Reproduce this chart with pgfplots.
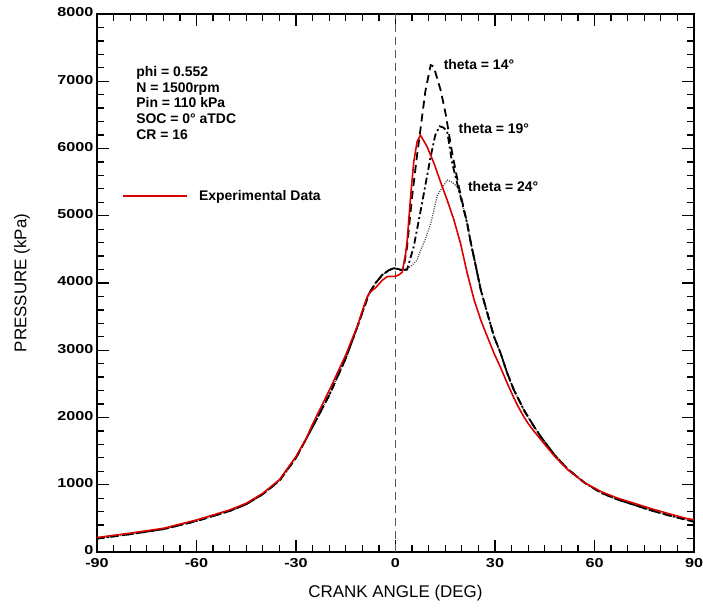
\documentclass[border=0pt]{standalone}
\usepackage{fontspec}
\setmainfont{Liberation Sans}
\newfontfamily\tickfont[FakeStretch=1.25]{Liberation Sans}
\usepackage{pgfplots}
\pgfplotsset{compat=1.18}

% experimental pressure trace
\pgfplotstableread{
ca p
-90 215
-80 280
-70 352
-60 476
-50 625
-45 724
-40 873
-35 1075
-30 1420
-27 1680
-25 1900
-20 2400
-15 2930
-11.5 3360
-9.5 3660
-8.5 3800
-7.5 3870
-6 3930
-4 4040
-2.5 4095
0 4100
1 4120
2 4160
3 4420
3.5 4620
4.5 5250
5.5 5800
6.5 6100
7.5 6200
9.5 6030
11.6 5780
13.6 5500
15.6 5230
17.6 4940
19.6 4590
21.6 4150
23.7 3750
25.7 3450
27.7 3200
29.7 2955
31.7 2740
33.7 2508
35.7 2290
37 2160
38.7 2010
40 1910
42 1780
44 1660
48 1420
52 1220
57 1030
62 897
67 800
72 724
77 645
82 575
87.6 500
90 480
}\expdata

% model, theta = 14
\pgfplotstableread{
ca p
-90 200
-80 265
-70 340
-60 460
-50 610
-45 710
-40 860
-35 1060
-30 1400
-25 1860
-20 2330
-15 2880
-12 3280
-10 3560
-8 3840
-6 4000
-4 4120
-2 4190
-0.5 4220
1 4205
2 4190
2.5 4242
3.5 4540
5 5283
6.5 5900
7.5 6275
9 6850
10.6 7240
11.5 7220
13.6 6870
15.1 6520
17.1 5929
19.1 5430
21.6 4890
22.7 4600
24 4300
25.7 3900
27.7 3549
29.7 3202
31.7 2955
33.7 2657
35.7 2409
38.7 2112
41.8 1863
43.8 1715
48 1440
52 1230
57 1030
62 880
67 780
72 700
77 620
82 550
90 450
}\thetaA

% model, theta = 19
\pgfplotstableread{
ca p
-90 200
-80 265
-70 340
-60 460
-50 610
-45 710
-40 860
-35 1060
-30 1400
-25 1860
-20 2330
-15 2880
-12 3280
-10 3560
-8 3840
-6 4000
-4 4120
-2 4190
-0.5 4220
1 4205
2 4185
3.5 4200
5.5 4540
8 5185
10.6 5880
12 6200
13.3 6330
14.5 6310
15.6 6250
17.1 5780
19.1 5383
21.6 4890
22.7 4600
24 4300
25.7 3900
27.7 3549
29.7 3202
31.7 2955
33.7 2657
35.7 2409
38.7 2112
41.8 1863
43.8 1715
48 1440
52 1230
57 1030
62 880
67 780
72 700
77 620
82 550
90 450
}\thetaB

% model, theta = 24
\pgfplotstableread{
ca p
-90 200
-80 265
-70 340
-60 460
-50 610
-45 710
-40 860
-35 1060
-30 1400
-25 1860
-20 2330
-15 2880
-12 3280
-10 3560
-8 3840
-6 4000
-4 4120
-2 4190
-0.5 4220
1 4205
2.5 4193
4.5 4242
6.5 4340
7.5 4480
9 4650
10.6 4880
12.6 5300
13.6 5383
15.6 5530
17 5500
18.6 5430
19.6 5300
21.6 4890
22.7 4600
24 4300
25.7 3900
27.7 3549
29.7 3202
31.7 2955
33.7 2657
35.7 2409
38.7 2112
41.8 1863
43.8 1715
48 1440
52 1230
57 1030
62 880
67 780
72 700
77 620
82 550
90 450
}\thetaC

\begin{document}
\begin{tikzpicture}
\begin{axis}[
    scale only axis,
    width=597bp, height=538bp,
    xmin=-90, xmax=90,
    ymin=0, ymax=8000,
    xtick={-90,-60,...,90},
    ytick={0,1000,...,8000},
    minor x tick num=5,
    minor y tick num=4,
    tick align=inside,
    tick pos=both,
    major tick length=12bp,
    minor tick length=7bp,
    every tick/.style={black, line width=1.3bp},
    axis line style={line width=1.5bp},
    scaled y ticks=false,
    /pgf/number format/assume math mode=true,
    /pgf/number format/1000 sep={},
    tick label style={font=\tickfont\bfseries\fontsize{13}{13}\selectfont},
    xticklabel style={yshift=-2.5bp},
    yticklabel style={yshift=1.5bp},
    xlabel={CRANK ANGLE (DEG)},
    ylabel={PRESSURE (kPa)},
    every axis x label/.style={at={(axis description cs:0.5,-0.0762)}, anchor=center,
        font=\fontsize{17}{17}\selectfont},
    every axis y label/.style={at={(axis description cs:-0.1256,0.5)}, anchor=center, rotate=90,
        font=\fontsize{17}{17}\selectfont},
    legend style={at={(axis cs:-82.4,5294)}, anchor=west, draw=none, fill=none,
        font=\bfseries\fontsize{14}{14}\selectfont, inner sep=0pt,
        nodes={inner sep=0pt}},
    legend image code/.code={\draw[#1] (0bp,0bp) -- (64bp,0bp);},
    legend cell align=left,
    /tikz/every odd column/.append style={column sep=11bp},
    clip=true,
]
% TDC marker
\addplot[forget plot, black!65, line width=1.2bp, dash pattern=on 8bp off 5bp]
    coordinates {(0,0) (0,8000)};

\addplot[forget plot, black!70, line width=1.3bp, dash pattern=on 1bp off 1.3bp] table[x=ca,y=p] {\thetaC};
\addplot[forget plot, black, line width=1.8bp, dash pattern=on 7bp off 3bp on 2bp off 3bp] table[x=ca,y=p] {\thetaB};
\addplot[forget plot, black, line width=1.8bp, dash pattern=on 8bp off 5bp] table[x=ca,y=p] {\thetaA};

\addplot[red!85!black, line width=1.6bp] table[x=ca,y=p] {\expdata};
\addlegendentry{Experimental Data}

\node[anchor=north west, align=left, inner sep=0pt,
      font=\bfseries\fontsize{14}{16}\selectfont]
    at (axis cs:-78.2,7230)
    {phi = 0.552\\N = 1500rpm\\Pin = 110 kPa\\SOC = 0° aTDC\\CR = 16};

\node[anchor=west, inner sep=0pt, font=\bfseries\fontsize{14}{14}\selectfont]
    at (axis cs:14.5,7242) {theta = 14°};
\node[anchor=west, inner sep=0pt, font=\bfseries\fontsize{14}{14}\selectfont]
    at (axis cs:19.0,6290) {theta = 19°};
\node[anchor=west, inner sep=0pt, font=\bfseries\fontsize{14}{14}\selectfont]
    at (axis cs:21.8,5442) {theta = 24°};
\end{axis}
\pgfresetboundingbox
\useasboundingbox (current axis.south west) ++(-97bp,-57bp) rectangle
      ([shift={(9bp,14bp)}]current axis.north east);
\end{tikzpicture}
\end{document}
